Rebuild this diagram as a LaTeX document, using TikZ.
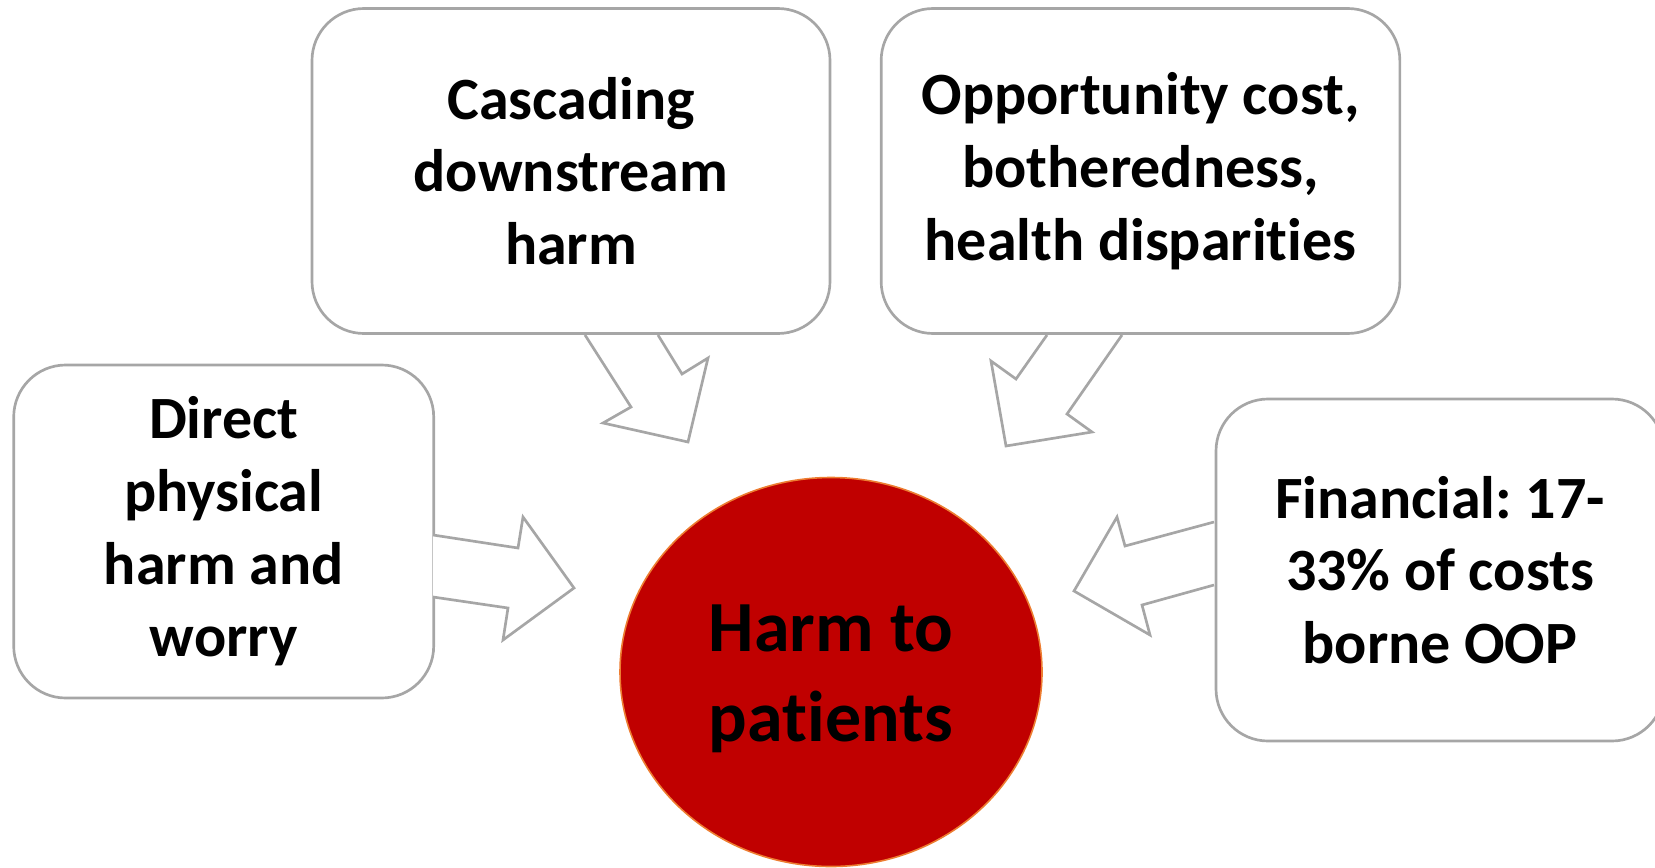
\documentclass[tikz,border=0pt]{standalone}
\usepackage{fontspec}
\setmainfont[Ligatures={NoCommon,NoRequired,NoContextual},RawFeature={-liga;-clig;-calt}]{Carlito}
\usetikzlibrary{shapes.geometric}
\definecolor{boxgray}{HTML}{A6A6A6}
\definecolor{harmred}{HTML}{C00000}
\definecolor{harmorange}{HTML}{ED7D31}
\frenchspacing
\begin{document}
\begin{tikzpicture}[x=0.75pt,y=-0.75pt,
  box/.style={draw=boxgray,line width=2pt,fill=white,rounded corners=39pt,align=center,inner sep=0pt,
    font=\bfseries\fontsize{45}{54.5}\selectfont},
  blockarrow/.style={draw=boxgray,line width=2pt,fill=white,line join=miter},
  harm/.style={ellipse,draw=harmorange,line width=1.2pt,fill=harmred,inner sep=0pt},
  harmlabel/.style={align=center,inner sep=0pt,font=\bfseries\fontsize{54}{67.5}\selectfont}]
\frenchspacing
\useasboundingbox (0,0) rectangle (1655,867);

\node[box,minimum width=388.5pt,minimum height=243.75pt] (casc) at (571,171) {Cascading\\downstream\\harm};
\node[box,minimum width=389pt,minimum height=243.75pt] (opp) at (1140.5,171) {Opportunity cost,\\botheredness,\\health dispari{t\kern0pt}ies};
\node[box,minimum width=315pt,minimum height=249.75pt] (direct) at (223.7,531.5) {Direct\\physical\\harm and\\worry};
\node[box,minimum width=336pt,minimum height=256.5pt] (fin) at (1440,570) {Financial: 17-\\33\% of costs\\borne OOP};
\node[harm,minimum width=316.5pt,minimum height=291.75pt] (harm) at (831,672) {};
\node[harmlabel] (harmtext) at (831,679) {Harm to\\pa{t\kern0pt}ients};

% block arrows
\draw[blockarrow] (433,535) -- (518,548) -- (523,517) -- (574,588) -- (503,640) -- (508,608) -- (433,597);
\draw[blockarrow] (585,335) -- (631,407) -- (603,423) -- (688,442) -- (708,358) -- (682,374) -- (658,335);
\draw[blockarrow] (1047,335) -- (1016,379) -- (991,361) -- (1006,446) -- (1092,432) -- (1067,414) -- (1122,335);
\draw[blockarrow] (1214,522) -- (1125,546) -- (1117,517) -- (1074,591) -- (1150,635) -- (1142,605) -- (1214,585);
\end{tikzpicture}
\end{document}
